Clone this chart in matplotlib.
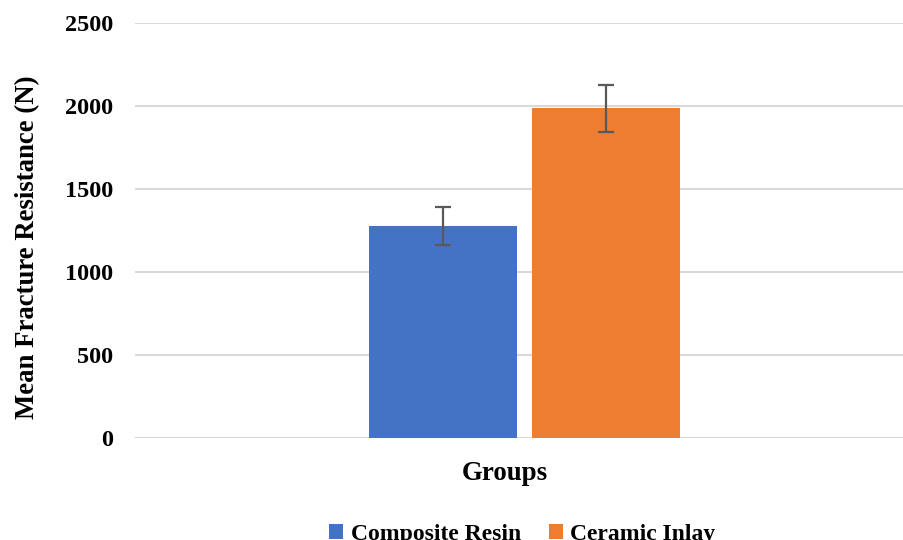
import numpy as np
import matplotlib.pyplot as plt

groups = ['Composite Resin', 'Ceramic Inlay']
means = [1280, 1988]
sds = [115, 142]
colors = ['#4472c4', '#ed7d31']

plt.rcParams['font.family'] = ['Liberation Serif', 'DejaVu Serif']
plt.rcParams['font.weight'] = 'bold'

fig = plt.figure(figsize=(9.04, 5.4), dpi=100)
ax = fig.add_axes([0.149, 0.189, 0.851, 0.768])

width = 0.385
gap = 0.039
center = 0.013
xpos = [center - (width + gap) / 2, center + (width + gap) / 2]

for x, m, s, c, g in zip(xpos, means, sds, colors, groups):
    ax.bar(x, m, width=width, color=c, label=g, zorder=2)
    ax.errorbar(x, m, yerr=s, fmt='none', ecolor='#595959', elinewidth=1.6,
                capsize=6, capthick=1.6, zorder=3)

ax.set_xlim(-1, 1)
ax.set_ylim(0, 2500)
ax.set_yticks(np.arange(0, 2501, 500))
ax.set_xticks([])
ax.grid(axis='y', color='#d9d9d9', linewidth=1.5, zorder=0)
for sp in ax.spines.values():
    sp.set_visible(False)
ax.tick_params(axis='y', length=0, pad=15.5, labelsize=17.5)

ax.set_ylabel('Mean Fracture Resistance (N)', fontsize=19.3, fontweight='bold', va='center')
ax.yaxis.set_label_coords(-0.139, 0.459)
ax.set_xlabel('Groups', fontsize=19.4, fontweight='bold', va='center')
ax.xaxis.set_label_coords(0.4805, -0.086)

ax.legend(loc='upper center', bbox_to_anchor=(0.504, -0.185), ncol=2, frameon=False,
          fontsize=17, handlelength=0.6, handleheight=0.6, handletextpad=0.3,
          columnspacing=1.2, borderaxespad=0)

fig.savefig('out.png', dpi=100)
